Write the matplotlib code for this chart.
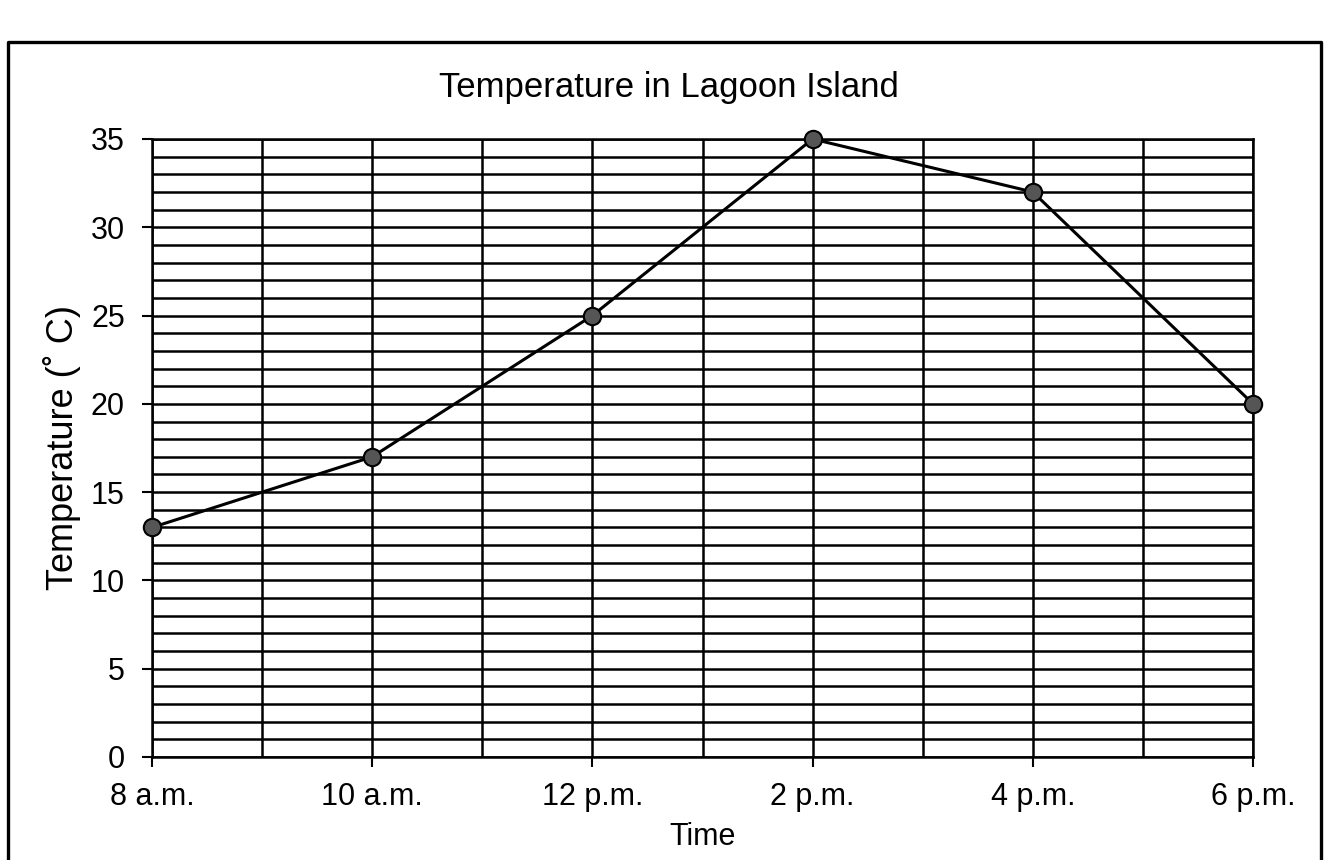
import matplotlib.pyplot as plt
from matplotlib.ticker import MultipleLocator

plt.rcParams['font.family'] = ['Liberation Sans', 'DejaVu Sans']

hours = [8, 10, 12, 14, 16, 18]
hour_labels = ['8 a.m.', '10 a.m.', '12 p.m.', '2 p.m.', '4 p.m.', '6 p.m.']
temps = [13, 17, 25, 35, 32, 20]

W, H = 1324, 860
fig = plt.figure(figsize=(W / 100, H / 100), dpi=100)
ax = fig.add_axes([152 / W, 1 - 757 / H, (1253 - 152) / W, (757 - 139) / H])

# рамка вокруг всей диаграммы (низ уходит за край скана)
left, right, top = 8 / W, 1321 / W, 1 - 42 / H
fig.add_artist(plt.Line2D([left, left, right, right], [0, top, top, 0],
                          transform=fig.transFigure, color='black', lw=2.4))

ax.set_xlim(8, 18)
ax.set_ylim(0, 35)
ax.set_xticks(hours)
ax.set_xticklabels(hour_labels)
ax.set_yticks(range(0, 36, 5))
ax.xaxis.set_minor_locator(MultipleLocator(1))
ax.yaxis.set_minor_locator(MultipleLocator(1))
ax.tick_params(which='minor', length=0)
ax.tick_params(which='major', direction='out', length=7, width=1.5,
               labelsize=22, color='black')
ax.tick_params(axis='y', pad=12.5)
ax.tick_params(axis='x', pad=11)

ax.grid(True, which='both', color='black', linewidth=1.8)
ax.set_axisbelow(True)
for s in ax.spines.values():
    s.set_linewidth(1.8)

ax.plot(hours, temps, color='black', lw=2.2, marker='o', markersize=12.5,
        markerfacecolor='#555555', markeredgecolor='black', markeredgewidth=1.5,
        clip_on=False, zorder=5)

fig.text(669 / W, 1 - 87 / H, 'Temperature in Lagoon Island', ha='center', va='center',
         fontsize=25)
ax.set_xlabel('Time', fontsize=22, labelpad=7)
ax.set_ylabel('Temperature (˚ C)', fontsize=26, labelpad=7)

fig.savefig('out.png', dpi=100)
